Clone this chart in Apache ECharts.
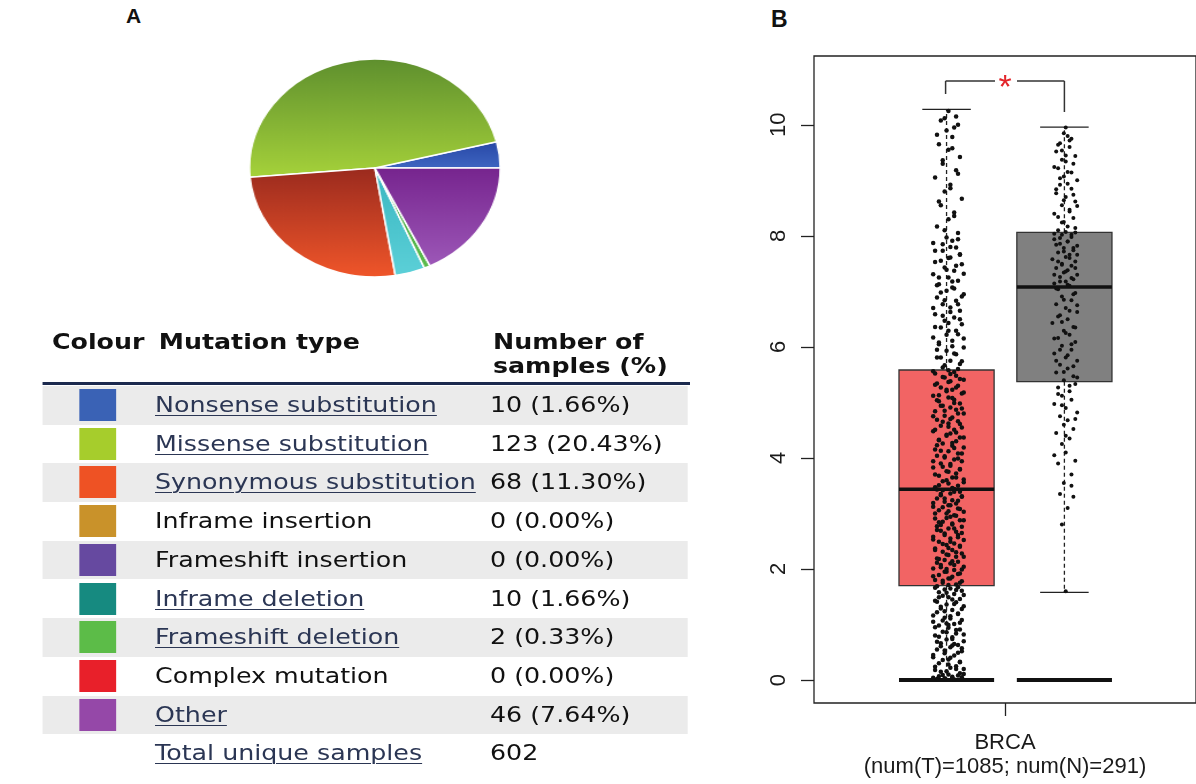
<!DOCTYPE html>
<html>
<head>
<meta charset="utf-8">
<script src="https://cdn.jsdelivr.net/npm/echarts@6/dist/echarts.min.js"></script>
<style>
  html, body { margin: 0; padding: 0; background: #fff; }
  body { width: 1196px; height: 784px; position: relative; overflow: hidden; font-family: "DejaVu Sans", Verdana, sans-serif; }
  .panel-label { position: absolute; font-family: "Liberation Sans", Arial, sans-serif; font-weight: bold; font-size: 20px; line-height: 20px; color: #111; }
  /* left panel is stretched horizontally in the source figure */
  #left { position: absolute; left: 0; top: 0; width: 1040px; height: 784px; transform: scaleX(1.15); transform-origin: 0 0; }
  #pie { position: absolute; left: 215px; top: 57px; width: 222px; height: 222px; }
  .hdr { position: absolute; font-weight: bold; font-size: 22px; line-height: 24px; color: #111; white-space: nowrap; }
  .rule { position: absolute; left: 36.5px; width: 563.5px; top: 382px; height: 3px; background: #1c2a4e; }
  .row { position: absolute; left: 36.5px; width: 561.5px; height: 38.7px; }
  .row.shade { background: #ebebeb; }
  .sw { position: absolute; left: 32.2px; top: 3px; width: 32.2px; height: 32px; }
  .txt { position: absolute; font-size: 22px; line-height: 38.7px; top: 0; white-space: nowrap; color: #111; }
  .txt.link { color: #2b3654; text-decoration: underline; text-decoration-thickness: 1px; text-underline-offset: 3px; }
  #chartB { position: absolute; left: 730px; top: 0; width: 466px; height: 784px; }
</style>
</head>
<body>
<div class="panel-label" style="left:126px;top:5px;font-size:21px;line-height:21px;">A</div>
<div class="panel-label" style="left:771px;top:8px;font-size:23px;line-height:23px;">B</div>

<div id="left">
  <div id="pie"></div>
  <div class="hdr" style="left:45.2px;top:330px;">Colour</div>
  <div class="hdr" style="left:138px;top:330px;">Mutation type</div>
  <div class="hdr" style="left:428.7px;top:330px;">Number of<br>samples (%)</div>
  <div class="rule"></div>
  <div id="rows"></div>
</div>

<div id="chartB"></div>

<script>
// ---- panel A: mutation table + pie ----
const mutationTypes = [
  "Nonsense substitution", "Missense substitution", "Synonymous substitution",
  "Inframe insertion", "Frameshift insertion", "Inframe deletion",
  "Frameshift deletion", "Complex mutation", "Other"
];
const sampleCounts = [10, 123, 68, 0, 0, 10, 2, 0, 46];
const isLinked = [true, true, true, false, false, true, true, false, true];
const totalSamples = 602;
const swatchColors = [
  "#3a62b5", "#a6cd2c", "#ee5224", "#c9922a", "#6649a0",
  "#168a80", "#5cbc48", "#e8202a", "#9548a8"
];
// pie slice shading: [top, bottom] of each gradient
const pieColors = [
  ["#2747a5", "#3f66c2"], ["#5e8f2e", "#a6d23a"], ["#9a2a1e", "#f0562a"],
  ["#b07f22", "#d09a30"], ["#5a3d92", "#7055aa"], ["#38b6c0", "#5cd0d8"],
  ["#3f9f45", "#5cbc4c"], ["#c81c20", "#ea3030"], ["#76248e", "#9d58b8"]
];

const ROW_TOP = 386, ROW_H = 38.7;
const rowsEl = document.getElementById("rows");
const addRow = (i, name, link, value, swatch) => {
  const r = document.createElement("div");
  r.className = "row" + (i % 2 === 0 && swatch ? " shade" : "");
  r.style.top = (ROW_TOP + i * ROW_H) + "px";
  if (swatch) {
    const s = document.createElement("div");
    s.className = "sw";
    s.style.background = swatch;
    r.appendChild(s);
  }
  const t = document.createElement("div");
  t.className = "txt" + (link ? " link" : "");
  t.style.left = "98.3px";
  t.textContent = name;
  r.appendChild(t);
  const v = document.createElement("div");
  v.className = "txt";
  v.style.left = "389.6px";
  v.textContent = value;
  r.appendChild(v);
  rowsEl.appendChild(r);
};
mutationTypes.forEach((name, i) => {
  const pct = (sampleCounts[i] / totalSamples * 100).toFixed(2);
  addRow(i, name, isLinked[i], sampleCounts[i] + " (" + pct + "%)", swatchColors[i]);
});
addRow(mutationTypes.length, "Total unique samples", true, String(totalSamples), null);

const pieChart = echarts.init(document.getElementById("pie"));
pieChart.setOption({
  animation: false,
  series: [{
    type: "pie",
    radius: 109,
    center: ["50%", "50%"],
    startAngle: 0,
    clockwise: false,
    label: { show: false },
    labelLine: { show: false },
    itemStyle: { borderColor: "#ffffff", borderWidth: 1.5 },
    data: mutationTypes
      .map((name, i) => ({
        name,
        value: sampleCounts[i],
        itemStyle: {
          color: new echarts.graphic.LinearGradient(0, 0, 0, 1, [
            { offset: 0, color: pieColors[i][0] },
            { offset: 1, color: pieColors[i][1] }
          ])
        }
      }))
      .filter((d) => d.value > 0)
  }]
});

// ---- panel B: BRCA expression boxplot ----
const cancerType = "BRCA";
const numTumor = 1085;
const numNormal = 291;
const yTicks = [0, 2, 4, 6, 8, 10];
const tumorPos = 0.694;
const normalPos = 1.311;
// [position, lower whisker, q1, median, q3, upper whisker]
const tumorBox = [tumorPos, 0, 1.70, 3.435, 5.584, 10.28];
const normalBox = [normalPos, 1.58, 5.373, 7.079, 8.064, 9.96];
const boxFill = ["#f26464", "#808080"];
// significance bracket: [left x, right x, left leg end, right leg end, top]
const sigBracket = [0.689, 1.311, 10.556, 10.231, 10.79];
const sigLabel = "*";

// jittered samples, [x offset in hundredths, value]
const tumorPoints = [
  [-6,0.02],[3,0.01],[7,0.05],[-2,0.03],[5,0.08],[-8,0.04],[0,0.1],[6,0.12],[-4,0.15],[2,0.06],
  [-7,0.18],[8,0.2],[1,0.22],[-3,0.09],[4,0.25],
  [-5,0.3],[6,0.33],[0,0.37],[-8,0.41],[3,0.44],[-2,0.48],[7,0.52],[-6,0.55],[1,0.59],[5,0.63],
  [-4,0.66],[8,0.7],[-1,0.73],[2,0.77],[-7,0.8],[4,0.84],[-3,0.87],[6,0.91],[0,0.94],[-5,0.98],
  [3,1.01],[-8,1.05],[7,1.08],[-2,1.12],[1,1.15],[5,1.19],[-6,1.22],[2,1.26],[-4,1.29],[8,1.33],
  [-1,1.36],[4,1.4],[-7,1.43],[6,1.46],[0,1.49],[-3,1.52],[3,1.55],[-5,1.58],[7,1.61],[-2,1.63],
  [1,1.65],[5,1.67],[-6,1.69],[2,0.62],[-1,1.02],
  [4,1.72],[-3,1.75],[7,1.78],[-7,1.8],[0,1.83],[2,1.86],[-5,1.89],[6,1.92],[-1,1.95],[3,1.98],
  [-8,2.01],[8,2.04],[-4,2.07],[1,2.1],[5,2.13],[-2,2.16],[-6,2.19],[4,2.22],[0,2.25],[7,2.28],
  [-3,2.31],[2,2.34],[-7,2.37],[6,2.4],[-1,2.43],[3,2.46],[-5,2.49],[8,2.52],[1,2.55],[-8,2.58],
  [5,2.61],[-2,2.64],[4,2.67],[-6,2.7],[0,2.73],[7,2.76],[-4,2.79],[2,2.82],[-3,2.85],[6,2.88],
  [-7,2.91],[1,2.94],[3,2.97],[-1,3.0],[8,3.03],[-5,3.06],[5,3.09],[-8,3.12],[0,3.15],[4,3.18],
  [-2,3.21],[2,3.24],[-6,3.27],[7,3.3],[-4,3.33],[1,3.36],[6,3.39],[-3,3.42],[3,3.44],[-1,2.0],
  [-7,3.47],[5,3.5],[0,3.54],[-3,3.58],[8,3.61],[2,3.65],[-5,3.68],[4,3.72],[-1,3.76],[6,3.79],
  [-8,3.83],[1,3.86],[-4,3.9],[7,3.94],[3,3.97],[-2,4.01],[-6,4.04],[5,4.08],[0,4.12],[-7,4.15],
  [8,4.19],[2,4.22],[-3,4.26],[4,4.3],[-5,4.33],[6,4.37],[-1,4.4],[1,4.44],[-8,4.48],[3,4.51],
  [7,4.55],[-4,4.58],[0,4.62],[5,4.66],[-6,4.69],[2,4.73],[-2,4.76],[8,4.8],[-7,4.84],[4,4.87],
  [1,4.91],[-3,4.94],[6,4.98],[-5,5.02],[3,5.05],[0,5.09],[-8,5.12],[7,5.16],[-1,5.2],[2,5.23],
  [-4,5.27],[5,5.3],[-6,5.34],[1,5.38],[8,5.41],[-2,5.45],[4,5.48],[-7,5.52],[3,5.55],[0,5.58],
  [-3,5.63],[6,5.69],[1,5.75],[-6,5.81],[4,5.87],[-1,5.93],[8,5.99],[-5,6.05],[2,6.11],[-8,6.17],
  [5,6.23],[0,6.29],[-4,6.35],[7,6.41],[-2,6.47],[3,6.53],[-7,6.59],[6,6.65],[1,6.71],[-3,6.77],
  [4,6.83],[-6,6.89],[8,6.95],[-1,7.01],[2,7.07],[-5,7.13],[5,7.19],[0,7.25],[-8,7.31],[3,7.37],
  [-2,7.43],[7,7.49],[-4,7.55],[1,7.61],[6,7.67],[-7,7.73],[4,7.79],[-3,7.85],[2,7.91],[-1,7.97],
  [5,8.05],[-6,8.17],[0,8.3],[3,8.42],[-4,8.55],[7,8.67],[-2,8.8],[1,8.92],[-7,9.05],[4,9.18],
  [-3,9.3],[6,9.42],[0,9.55],[-5,9.65],[2,9.78],[-1,9.9],[5,10.0],[-4,10.08],[4,10.15],[0,10.25],
  [2,0.04],[-5,0.07],[8,0.11],[-1,0.16],[4,0.2],[-7,0.24],[0,0.28],[6,0.32],[-3,0.36],[1,0.4],
  [-8,0.45],[5,0.49],[-2,0.53],[7,0.57],[-4,0.61],[3,0.65],[-6,0.69],[2,0.74],[-5,0.78],[8,0.82],
  [-1,0.86],[4,0.9],[-7,0.95],[0,0.99],[6,1.03],[-3,1.07],[1,1.11],[-8,1.16],[5,1.2],[-2,1.24],
  [7,1.28],[-4,1.32],[3,1.37],[-6,1.41],[2,1.45],[-5,1.49],[8,1.53],[-1,1.57],[4,1.62],[-7,1.66],
  [0,1.71],[6,1.75],[-3,1.79],[1,1.83],[-8,1.87],[5,1.91],[-2,1.95],[7,1.99],[-4,2.03],[3,2.07],
  [-6,2.11],[2,2.14],[-5,2.18],[8,2.22],[-1,2.26],[4,2.3],[-7,2.34],[0,2.38],[6,2.42],[-3,2.45],
  [1,2.49],[-8,2.53],[5,2.57],[-2,2.61],[7,2.65],[-4,2.69],[3,2.73],[-6,2.77],[2,2.8],[-5,2.84],
  [8,2.88],[-1,2.92],[4,2.96],[-7,3.0],[0,3.04],[6,3.08],[-3,3.11],[1,3.15],[-8,3.19],[5,3.23],
  [-2,3.27],[7,3.31],[-4,3.35],[3,3.39],[-6,3.43],
  [2,3.46],[-5,3.51],[8,3.56],[-1,3.6],[4,3.65],[-7,3.7],[0,3.75],[6,3.8],[-3,3.84],[1,3.89],
  [-8,3.94],[5,3.99],[-2,4.03],[7,4.08],[-4,4.13],[3,4.18],[-6,4.23],[2,4.27],[-5,4.32],[8,4.37],
  [-1,4.42],[4,4.46],[-7,4.51],[0,4.56],[6,4.61],[-3,4.65],[1,4.7],[-8,4.75],[5,4.8],[-2,4.85],
  [7,4.89],[-4,4.94],[3,4.99],[-6,5.04],[2,5.08],[-5,5.13],[8,5.18],[-1,5.23],[4,5.27],[-7,5.32],
  [0,5.37],[6,5.42],[-3,5.46],[1,5.51],[-8,5.56],
  [5,5.6],[-2,5.67],[7,5.74],[-4,5.81],[3,5.88],[-6,5.95],[2,6.01],[-5,6.08],[8,6.15],[-1,6.22],
  [4,6.29],[-7,6.36],[0,6.43],[6,6.5],[-3,6.56],[1,6.63],[-8,6.7],[5,6.77],[-2,6.84],[7,6.91],
  [-4,6.98],[3,7.05],[-6,7.11],[2,7.18],[-5,7.25],[8,7.32],[-1,7.39],[4,7.46],[-7,7.53],[0,7.6],
  [6,7.66],[-3,7.73],[1,7.8],[-8,7.87],[5,7.94],
  [-2,8.1],[3,8.36],[-5,8.62],[1,8.86],[5,9.12],[-3,9.36],[2,9.58],[-6,9.82],[3,9.95],[-2,10.12]
];
const normalPoints = [
  [0,1.6],[-2,2.8],[1,3.1],[-3,3.35],[4,3.3],[-1,3.55],[3,3.7],[-4,3.9],[5,3.95],[0,4.1],
  [-2,4.25],[2,4.35],[-5,4.45],[4,4.52],[-1,4.6],[1,4.68],[-3,4.75],[6,4.82],[0,4.9],[-6,4.97],
  [3,5.05],[-2,5.12],[2,5.2],[-4,5.27],[5,5.33],
  [-1,5.4],[4,5.47],[-5,5.54],[1,5.61],[-3,5.68],[6,5.75],[0,5.81],[-6,5.88],[3,5.95],[-2,6.02],
  [5,6.09],[-4,6.16],[2,6.22],[-1,6.29],[4,6.36],[-7,6.43],[1,6.5],[-3,6.57],[6,6.63],[0,6.7],
  [-5,6.77],[3,6.84],[-2,6.91],[5,6.97],[-4,7.04],
  [2,7.1],[-6,7.14],[0,7.18],[4,7.22],[-3,7.26],[6,7.3],[-1,7.34],[1,7.38],[-5,7.42],[3,7.46],
  [-2,7.5],[5,7.54],[-7,7.58],[0,7.62],[2,7.66],[-4,7.7],[4,7.74],[-1,7.78],[6,7.82],[-3,7.86],
  [1,7.9],[-6,7.94],[3,7.98],[-2,8.02],[5,8.06],
  [-4,8.1],[1,8.17],[-1,8.25],[4,8.32],[-6,8.4],[2,8.47],[-2,8.55],[5,8.62],[0,8.7],[-5,8.77],
  [3,8.85],[-3,8.92],[6,9.0],[-1,9.07],[1,9.15],[-4,9.22],[4,9.3],[-2,9.37],[0,9.45],[-5,9.52],
  [2,9.6],[-3,9.67],[3,9.75],[-1,9.85],[0,9.95],
  [3,3.5],[-6,4.05],[0,4.4],[5,4.7],[-2,4.95],[-4,5.15],[2,5.3],
  [6,5.45],[-1,5.55],[4,5.65],[-5,5.75],[1,5.85],[-3,5.95],[3,6.05],[-6,6.15],[0,6.25],[5,6.35],
  [-2,6.45],[-4,6.55],[2,6.65],[6,6.75],[-1,6.85],[4,6.95],[-5,7.05],
  [1,7.12],[-3,7.18],[3,7.24],[-6,7.3],[0,7.36],[5,7.42],[-2,7.48],[-4,7.54],[2,7.6],[6,7.66],
  [-1,7.72],[4,7.78],[-5,7.84],[1,7.9],[-3,7.96],[3,8.02],[-6,8.04],[0,8.07],
  [5,8.14],[-2,8.24],[-4,8.34],[2,8.44],[6,8.54],[-1,8.64],[4,8.74],[-5,8.84],[1,8.94],[-3,9.04],
  [3,9.14],[-6,9.24],[0,9.34],[5,9.44],[-2,9.54],[-4,9.64],[2,9.72],[1,9.8]
];

const BOX_HALF = 0.249;
const CAP_HALF = 0.127;
const ink = "#222";

const renderBox = (params, api) => {
  const pos = api.value(0);
  const low = api.value(1), q1 = api.value(2), med = api.value(3), q3 = api.value(4), high = api.value(5);
  const c = (x, y) => api.coord([x, y]);
  const fill = boxFill[params.dataIndex];
  const seg = (a, b, style) => ({
    type: "line",
    shape: { x1: a[0], y1: a[1], x2: b[0], y2: b[1] },
    style: Object.assign({ stroke: ink, lineWidth: 1.3 }, style)
  });
  const tl = c(pos - BOX_HALF, q3), br = c(pos + BOX_HALF, q1);
  return {
    type: "group",
    children: [
      seg(c(pos, q3), c(pos, high), { lineDash: [4, 3] }),
      seg(c(pos, q1), c(pos, low), { lineDash: [4, 3] }),
      seg(c(pos - CAP_HALF, high), c(pos + CAP_HALF, high)),
      seg(c(pos - CAP_HALF, low), c(pos + CAP_HALF, low)),
      {
        type: "rect",
        shape: { x: tl[0], y: tl[1], width: br[0] - tl[0], height: br[1] - tl[1] },
        style: { fill, stroke: "#333", lineWidth: 1.3 }
      },
      seg(c(pos - BOX_HALF, med), c(pos + BOX_HALF, med), { lineWidth: 3.5, stroke: "#111" }),
      seg(c(pos - BOX_HALF, 0), c(pos + BOX_HALF, 0), { lineWidth: 4, stroke: "#111" })
    ]
  };
};

const renderBracket = (params, api) => {
  const xl = api.value(0), xr = api.value(1), yl = api.value(2), yr = api.value(3), top = api.value(4);
  const c = (x, y) => api.coord([x, y]);
  const mid = (xl + xr) / 2;
  const a = c(xl, top), b = c(xr, top), m = c(mid, top);
  const gapL = m[0] - 10, gapR = m[0] + 12;
  const line = (p, q) => ({
    type: "line",
    shape: { x1: p[0], y1: p[1], x2: q[0], y2: q[1] },
    style: { stroke: "#333", lineWidth: 1.5 }
  });
  return {
    type: "group",
    children: [
      line(c(xl, yl), a),
      line(a, [gapL, a[1]]),
      line([gapR, b[1]], b),
      line(b, c(xr, yr)),
      {
        type: "text",
        style: {
          text: sigLabel, x: m[0], y: m[1] + 8, align: "center", verticalAlign: "middle",
          fill: "#e3262b", fontSize: 34, fontFamily: "Liberation Sans, Arial, sans-serif"
        }
      }
    ]
  };
};

const jitter = (pos, pts) => pts.map(([dx, y]) => [pos + dx / 100, y]);

const boxChart = echarts.init(document.getElementById("chartB"));
boxChart.setOption({
  animation: false,
  grid: {
    left: 84, top: 56, width: 386, height: 647,
    show: true, borderColor: ink, borderWidth: 1.3, backgroundColor: "transparent"
  },
  xAxis: {
    type: "value", min: 0, max: 2,
    splitLine: { show: false },
    axisLine: { show: false, onZero: false },
    axisTick: { show: true, length: 13, customValues: [1], lineStyle: { color: ink, width: 1.3 } },
    axisLabel: {
      customValues: [1],
      formatter: () => cancerType + "\n(num(T)=" + numTumor + "; num(N)=" + numNormal + ")",
      fontSize: 22, lineHeight: 24, margin: 28, color: "#1a1a1a",
      fontFamily: "Liberation Sans, Arial, sans-serif"
    }
  },
  yAxis: {
    type: "value", min: -0.414, max: 11.24,
    splitLine: { show: false },
    axisLine: { show: false, onZero: false },
    axisTick: { show: true, length: 13, customValues: yTicks, lineStyle: { color: ink, width: 1.3 } },
    axisLabel: {
      customValues: yTicks, rotate: 90, margin: 24, fontSize: 22, color: "#1a1a1a",
      fontFamily: "Liberation Sans, Arial, sans-serif"
    }
  },
  series: [
    {
      type: "custom", name: "box", renderItem: renderBox,
      encode: { x: 0, y: [1, 2, 3, 4, 5] },
      data: [tumorBox, normalBox], z: 2
    },
    {
      type: "scatter", name: "Tumor", data: jitter(tumorPos + 0.01, tumorPoints),
      symbolSize: 4.5, itemStyle: { color: "#111", opacity: 1 }, z: 3
    },
    {
      type: "scatter", name: "Normal", data: jitter(normalPos + 0.007, normalPoints),
      symbolSize: 4, itemStyle: { color: "#111", opacity: 1 }, z: 3
    },
    {
      type: "custom", name: "signif", renderItem: renderBracket,
      encode: { x: [0, 1], y: [2, 3, 4] },
      data: [sigBracket], z: 4
    }
  ]
});
</script>
</body>
</html>
